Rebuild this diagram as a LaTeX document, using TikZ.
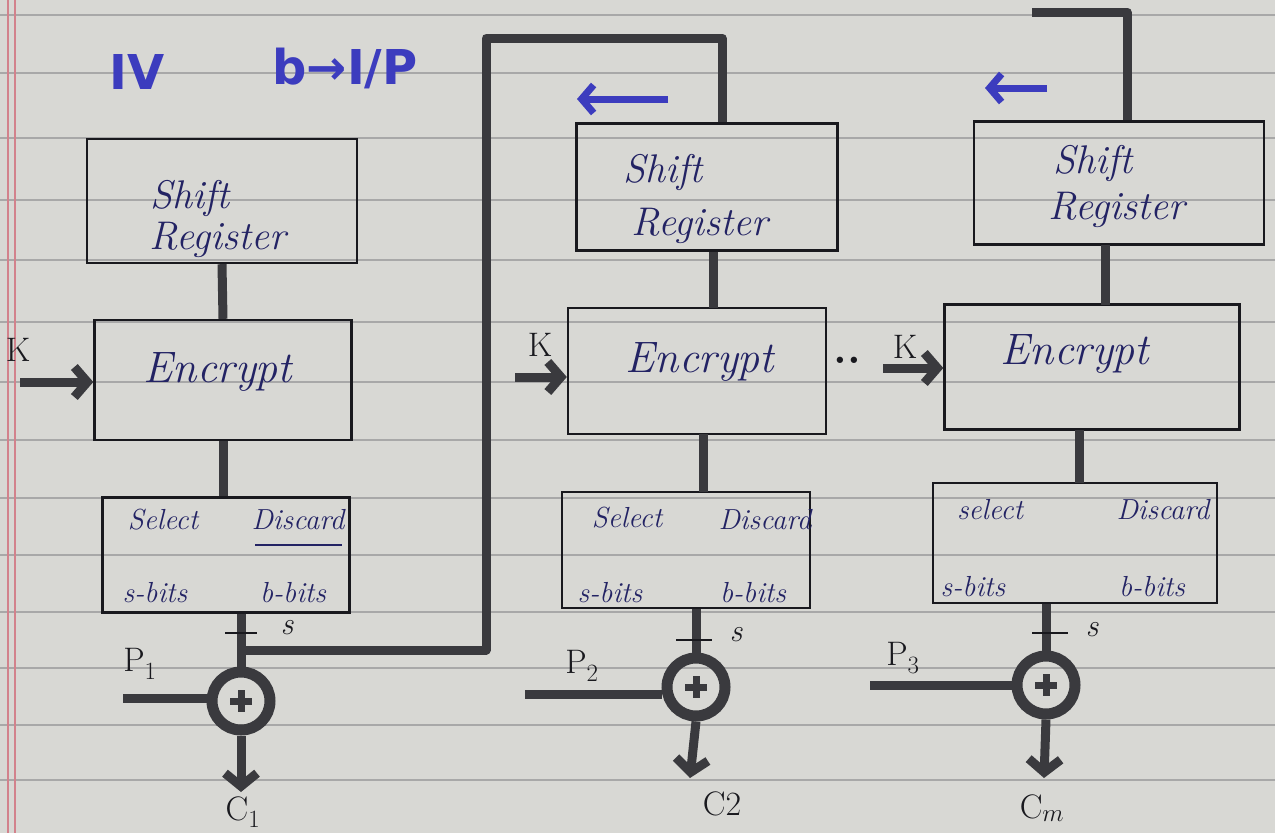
\documentclass[tikz,border=0pt]{standalone}
\usepackage{fontspec}
\newfontfamily\dvsans{DejaVu Sans}
\usetikzlibrary{arrows.meta}
\definecolor{paper}{RGB}{216,216,212}
\definecolor{rulec}{RGB}{168,168,168}
\definecolor{marginc}{RGB}{210,130,140}
\definecolor{ink}{RGB}{25,25,30}
\definecolor{wire}{RGB}{58,58,62}
\definecolor{navy}{RGB}{35,35,100}
\definecolor{pen}{RGB}{60,60,190}
\begin{document}
\begin{tikzpicture}[x=1pt,y=-1pt,
  box/.style={draw=ink, line width=2.4pt, inner sep=0pt},
  conn/.style={draw=wire, line width=9pt, line join=round},
  xorc/.style={circle, draw=wire, line width=11pt, minimum size=58pt, inner sep=0pt},
  plusmark/.style={draw=wire, line width=7pt},
  karrow/.style={draw=wire, line width=9pt, -{Straight Barb[length=13pt,width=30pt]}},
  outarrow/.style={draw=wire, line width=9pt, -{Straight Barb[length=13pt,width=32pt]}},
  bluearrow/.style={draw=pen, line width=7pt, -{Straight Barb[length=12pt,width=28pt]}},
  tickmark/.style={draw=ink, line width=2.4pt},
  srtxt/.style={text=navy, font=\fontsize{40}{40}\selectfont\itshape, inner sep=0pt},
  enctxt/.style={text=navy, font=\fontsize{44}{44}\selectfont\itshape, inner sep=0pt},
  seltxt/.style={text=navy, font=\fontsize{29}{29}\selectfont\itshape, inner sep=0pt},
  lbl/.style={text=ink, font=\fontsize{34}{34}\selectfont, inner sep=0pt},
  slbl/.style={text=ink, font=\fontsize{32}{32}\selectfont\itshape, inner sep=0pt},
  toptxt/.style={text=pen, font=\fontsize{48}{48}\selectfont\dvsans\bfseries, inner sep=0pt}
]
\useasboundingbox (0,0) rectangle (1275,833);
\fill[paper] (0,0) rectangle (1275,833);
\foreach \yy in {15,73,138,200,260,322,382,440,498,555,612,668,725,780}
  \draw[rulec, line width=1.1pt] (0,\yy) -- (1275,\yy);
\draw[marginc, line width=1.5pt] (8,0) -- (8,833) (15,0) -- (15,833);

% top text
\node[toptxt] (iv) at (137,72) {IV};
\node[toptxt] (bip) at (345,68) {b→I/P};

% ---------- block 1 ----------
\node[box, minimum width=270pt, minimum height=124pt] (sr1) at (222,201) {};
\node[srtxt] (sr1a) at (190,198) {Shift};
\node[srtxt] (sr1b) at (218,240) {Register};
\node[box, minimum width=257pt, minimum height=120pt] (enc1) at (223,380) {};
\node[enctxt] (enc1t) at (218,372) {Encrypt};
\node[box, minimum width=247pt, minimum height=115pt] (sel1) at (226,555) {};
\node[seltxt] (sel1s) at (163,520) {Select};
\node[seltxt] (sel1d) at (298,520) {Discard};
\draw[navy, line width=2.4pt] (255,545) -- (342,545);
\node[seltxt] (sel1sb) at (155,593) {s-bits};
\node[seltxt] (sel1bb) at (293,593) {b-bits};
\node[xorc] (x1) at (241,701) {};
\draw[plusmark] (x1.center) ++(-11,0) -- ++(22,0) (x1.center) ++(0,-11) -- ++(0,22);

\draw[conn] (sr1.south) -- (enc1.north);
\draw[conn] (enc1.south) -- (enc1.south |- sel1.north);
\draw[conn] (x1 |- sel1.south) -- (x1.north);
\coordinate (t1) at (241,633);
\draw[tickmark] (t1) ++(-16,0) -- ++(32,0);
\node[slbl] (s1) at (287,628) {s};
\coordinate (k1s) at (20,382);
\draw[karrow] (k1s) -- (k1s -| enc1.west);
\node[lbl] (k1) at (18,350) {K};
\coordinate (p1s) at (123,698);
\draw[conn] (p1s) -- (p1s -| x1.west);
\node[lbl] (p1) at (140,664) {P$_1$};
\coordinate (c1e) at (241,792);
\draw[outarrow] (x1.south) -- (c1e);
\node[lbl] (c1) at (243,812) {C$_1$};

% feedback 1 -> 2
\coordinate (j1) at (241,650);
\coordinate (fb2) at (722,38);
\draw[conn] (j1) -- (486,650) -- (486,38) -- (fb2) -- (fb2 |- 0,124);

% ---------- block 2 ----------
\node[box, minimum width=261pt, minimum height=127pt] (sr2) at (707,187) {};
\node[srtxt] (sr2a) at (663,172) {Shift};
\node[srtxt] (sr2b) at (700,226) {Register};
\node[box, minimum width=258pt, minimum height=126pt] (enc2) at (697,371) {};
\node[enctxt] (enc2t) at (700,362) {Encrypt};
\node[box, minimum width=248pt, minimum height=116pt] (sel2) at (686,550) {};
\node[seltxt] (sel2s) at (627,518) {Select};
\node[seltxt] (sel2d) at (765,520) {Discard};
\node[seltxt] (sel2sb) at (610,593) {s-bits};
\node[seltxt] (sel2bb) at (753,593) {b-bits};
\node[xorc] (x2) at (696,687) {};
\draw[plusmark] (x2.center) ++(-11,0) -- ++(22,0) (x2.center) ++(0,-11) -- ++(0,22);

\draw[conn] (sr2.south -| 713,0) -- (713,308);
\draw[conn] (703,434) -- (703,492);
\draw[conn] (x2 |- sel2.south) -- (x2.north);
\coordinate (t2) at (694,640);
\draw[tickmark] (t2) ++(-18,0) -- ++(36,0);
\node[slbl] (s2) at (736,635) {s};
\coordinate (k2s) at (515,377);
\draw[karrow] (k2s) -- (k2s -| enc2.west);
\node[lbl] (k2) at (540,345) {K};
\coordinate (p2s) at (525,694);
\draw[conn] (p2s) -- (p2s -| x2.west);
\node[lbl] (p2) at (582,666) {P$_2$};
\coordinate (c2e) at (690,778);
\draw[outarrow] (x2.south) -- (c2e);
\node[lbl] (c2) at (722,804) {C2};
\coordinate (ba2s) at (668,99);
\coordinate (ba2e) at (577,99);
\draw[bluearrow] (ba2s) -- (ba2e);
\node[lbl, font=\fontsize{44}{44}\selectfont\bfseries] (dots) at (847,360) {..};

% ---------- block 3 ----------
\coordinate (fb3a) at (1032,12);
\coordinate (fb3) at (1127,12);
\draw[conn] (fb3a) -- (fb3) -- (fb3 |- 0,121);
\coordinate (ba3s) at (1047,88);
\coordinate (ba3e) at (985,88);
\draw[bluearrow] (ba3s) -- (ba3e);
\node[box, minimum width=290pt, minimum height=123pt] (sr3) at (1119,183) {};
\node[srtxt] (sr3a) at (1093,163) {Shift};
\node[srtxt] (sr3b) at (1117,210) {Register};
\node[box, minimum width=295pt, minimum height=125pt] (enc3) at (1092,367) {};
\node[enctxt] (enc3t) at (1075,354) {Encrypt};
\node[box, minimum width=284pt, minimum height=120pt] (sel3) at (1075,543) {};
\node[seltxt] (sel3s) at (990,510) {select};
\node[seltxt] (sel3d) at (1163,510) {Discard};
\node[seltxt] (sel3sb) at (973,587) {s-bits};
\node[seltxt] (sel3bb) at (1152,587) {b-bits};
\node[xorc] (x3) at (1046,685) {};
\draw[plusmark] (x3.center) ++(-11,0) -- ++(22,0) (x3.center) ++(0,-11) -- ++(0,22);

\draw[conn] (1105,245) -- (1105,305);
\draw[conn] (1079,430) -- (1079,483);
\draw[conn] (x3 |- sel3.south) -- (x3.north);
\coordinate (t3) at (1050,633);
\draw[tickmark] (t3) ++(-18,0) -- ++(36,0);
\node[slbl] (s3) at (1092,630) {s};
\coordinate (k3s) at (883,368);
\draw[karrow] (k3s) -- (k3s -| enc3.west);
\node[lbl] (k3) at (905,347) {K};
\coordinate (p3s) at (870,685);
\draw[conn] (p3s) -- (p3s -| x3.west);
\node[lbl] (p3) at (903,658) {P$_3$};
\coordinate (c3e) at (1044,778);
\draw[outarrow] (x3.south) -- (c3e);
\node[lbl] (c3) at (1042,808) {C$_m$};
\end{tikzpicture}
\end{document}
